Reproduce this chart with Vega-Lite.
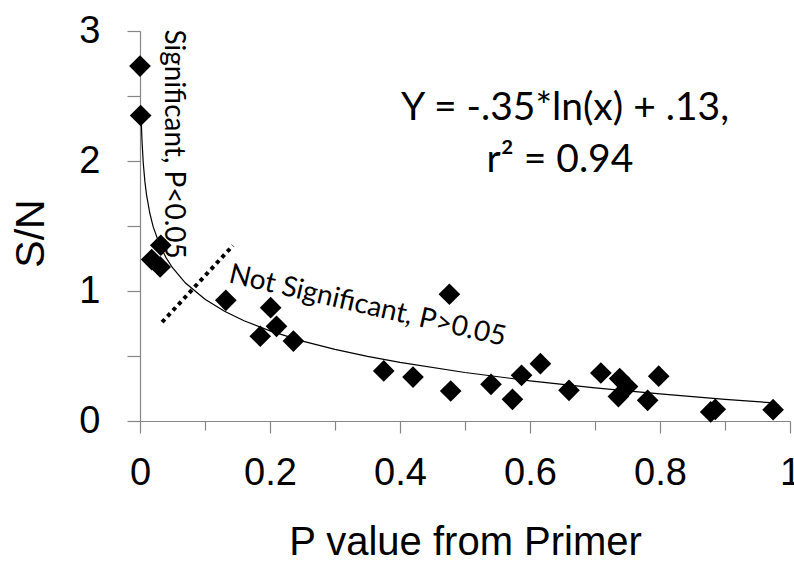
{
  "$schema": "https://vega.github.io/schema/vega-lite/v6.json",
  "width": 650,
  "height": 390,
  "autosize": "none",
  "padding": {"left": 140, "top": 31, "right": 4, "bottom": 153},
  "background": "white",
  "config": {"view": {"stroke": null}, "axis": {"grid": false}},
  "datasets": {
    "points": [
      {"p": 0.0, "sn": 2.73}, {"p": 0.001, "sn": 2.35},
      {"p": 0.032, "sn": 1.352}, {"p": 0.018, "sn": 1.242}, {"p": 0.031, "sn": 1.185},
      {"p": 0.132, "sn": 0.928}, {"p": 0.201, "sn": 0.872}, {"p": 0.21, "sn": 0.728},
      {"p": 0.185, "sn": 0.652}, {"p": 0.236, "sn": 0.615}, {"p": 0.375, "sn": 0.385},
      {"p": 0.42, "sn": 0.338}, {"p": 0.476, "sn": 0.975}, {"p": 0.478, "sn": 0.231},
      {"p": 0.54, "sn": 0.282}, {"p": 0.573, "sn": 0.167}, {"p": 0.587, "sn": 0.351},
      {"p": 0.616, "sn": 0.441}, {"p": 0.66, "sn": 0.236}, {"p": 0.709, "sn": 0.369},
      {"p": 0.738, "sn": 0.326}, {"p": 0.75, "sn": 0.265}, {"p": 0.736, "sn": 0.188},
      {"p": 0.781, "sn": 0.159}, {"p": 0.798, "sn": 0.345}, {"p": 0.878, "sn": 0.07},
      {"p": 0.885, "sn": 0.09}, {"p": 0.974, "sn": 0.087}
    ],
    "trend": [
      {"p": 0.0015, "sn": 2.406}, {"p": 0.002, "sn": 2.305}, {"p": 0.003, "sn": 2.163},
      {"p": 0.005, "sn": 1.984}, {"p": 0.0075, "sn": 1.843}, {"p": 0.01, "sn": 1.742},
      {"p": 0.015, "sn": 1.600}, {"p": 0.02, "sn": 1.499}, {"p": 0.03, "sn": 1.357},
      {"p": 0.04, "sn": 1.257}, {"p": 0.05, "sn": 1.179}, {"p": 0.07, "sn": 1.061},
      {"p": 0.1, "sn": 0.936}, {"p": 0.13, "sn": 0.844}, {"p": 0.16, "sn": 0.771},
      {"p": 0.2, "sn": 0.693}, {"p": 0.25, "sn": 0.615}, {"p": 0.3, "sn": 0.551},
      {"p": 0.35, "sn": 0.497}, {"p": 0.4, "sn": 0.451}, {"p": 0.5, "sn": 0.373},
      {"p": 0.6, "sn": 0.309}, {"p": 0.7, "sn": 0.255}, {"p": 0.8, "sn": 0.208},
      {"p": 0.9, "sn": 0.167}, {"p": 0.975, "sn": 0.139}
    ],
    "divider": [{"p": 0.034, "sn": 0.76}, {"p": 0.143, "sn": 1.35}],
    "equation": [
      {"p": 0.654, "sn": 2.313, "label": "Y = -.35*ln(x) + .13,"},
      {"p": 0.646, "sn": 1.913, "label": "r² = 0.94"}
    ],
    "sig": [{"p": 0.05, "sn": 2.13, "label": "Significant, P<0.05"}],
    "nonsig": [{"p": 0.35, "sn": 0.882, "label": "Not Significant, P>0.05"}]
  },
  "layer": [
    {
      "data": {"name": "trend"},
      "mark": {"type": "line", "color": "black", "strokeWidth": 1.2},
      "encoding": {
        "x": {
          "field": "p", "type": "quantitative",
          "scale": {"domain": [0, 1], "nice": false},
          "axis": {
            "values": [0, 0.05, 0.1, 0.15, 0.2, 0.25, 0.3, 0.35, 0.4, 0.45, 0.5, 0.55, 0.6, 0.65, 0.7, 0.75, 0.8, 0.85, 0.9, 0.95, 1],
            "format": ".2~f",
            "labelExpr": "round(datum.value*20) % 4 === 0 ? datum.label : ''",
            "tickSize": {"condition": {"test": "round(datum.value*20) % 4 === 0", "value": 12}, "value": 9},
            "labelOverlap": false, "labelFlush": false, "labelBound": false,
            "labelFont": "Liberation Sans", "labelFontSize": 38, "labelColor": "black",
            "labelBaseline": "alphabetic", "labelPadding": 51,
            "domainColor": "#868686", "tickColor": "#868686", "domainWidth": 1.2, "tickWidth": 1.2,
            "title": "P value from Primer",
            "titleFont": "Liberation Sans", "titleFontSize": 40, "titleFontWeight": "normal", "titleColor": "black",
            "titleBaseline": "alphabetic", "titleY": 133
          }
        },
        "y": {
          "field": "sn", "type": "quantitative",
          "scale": {"domain": [0, 3], "nice": false},
          "axis": {
            "values": [0, 0.5, 1, 1.5, 2, 2.5, 3],
            "format": "~g",
            "labelExpr": "datum.value % 1 === 0 ? datum.label : ''",
            "tickSize": 13, "labelPadding": 27, "labelOverlap": false, "labelFlush": false,
            "labelFont": "Liberation Sans", "labelFontSize": 38, "labelColor": "black",
            "domainColor": "#868686", "tickColor": "#868686", "domainWidth": 1.2, "tickWidth": 1.2,
            "title": "S/N",
            "titleFont": "Liberation Sans", "titleFontSize": 41, "titleFontWeight": "normal", "titleColor": "black",
            "titleAngle": -90, "titleBaseline": "alphabetic", "titleAlign": "center",
            "titleX": -97, "titleY": 202
          }
        }
      }
    },
    {
      "data": {"name": "points"},
      "mark": {"type": "point", "shape": "diamond", "filled": true, "color": "black", "opacity": 1, "size": 470},
      "encoding": {
        "x": {"field": "p", "type": "quantitative"},
        "y": {"field": "sn", "type": "quantitative"}
      }
    },
    {
      "data": {"name": "divider"},
      "mark": {"type": "line", "color": "black", "strokeWidth": 4, "strokeDash": [4, 4], "strokeCap": "butt"},
      "encoding": {
        "x": {"field": "p", "type": "quantitative"},
        "y": {"field": "sn", "type": "quantitative"}
      }
    },
    {
      "data": {"name": "equation"},
      "mark": {"type": "text", "font": "Lato", "fontSize": 39, "color": "black", "align": "center", "baseline": "alphabetic"},
      "encoding": {
        "x": {"field": "p", "type": "quantitative"},
        "y": {"field": "sn", "type": "quantitative"},
        "text": {"field": "label"}
      }
    },
    {
      "data": {"name": "sig"},
      "mark": {"type": "text", "font": "Lato", "fontSize": 28, "color": "black", "align": "center", "baseline": "middle", "angle": 90},
      "encoding": {
        "x": {"field": "p", "type": "quantitative"},
        "y": {"field": "sn", "type": "quantitative"},
        "text": {"field": "label"}
      }
    },
    {
      "data": {"name": "nonsig"},
      "mark": {"type": "text", "font": "Lato", "fontSize": 28, "color": "black", "align": "center", "baseline": "middle", "angle": 13},
      "encoding": {
        "x": {"field": "p", "type": "quantitative"},
        "y": {"field": "sn", "type": "quantitative"},
        "text": {"field": "label"}
      }
    }
  ]
}
